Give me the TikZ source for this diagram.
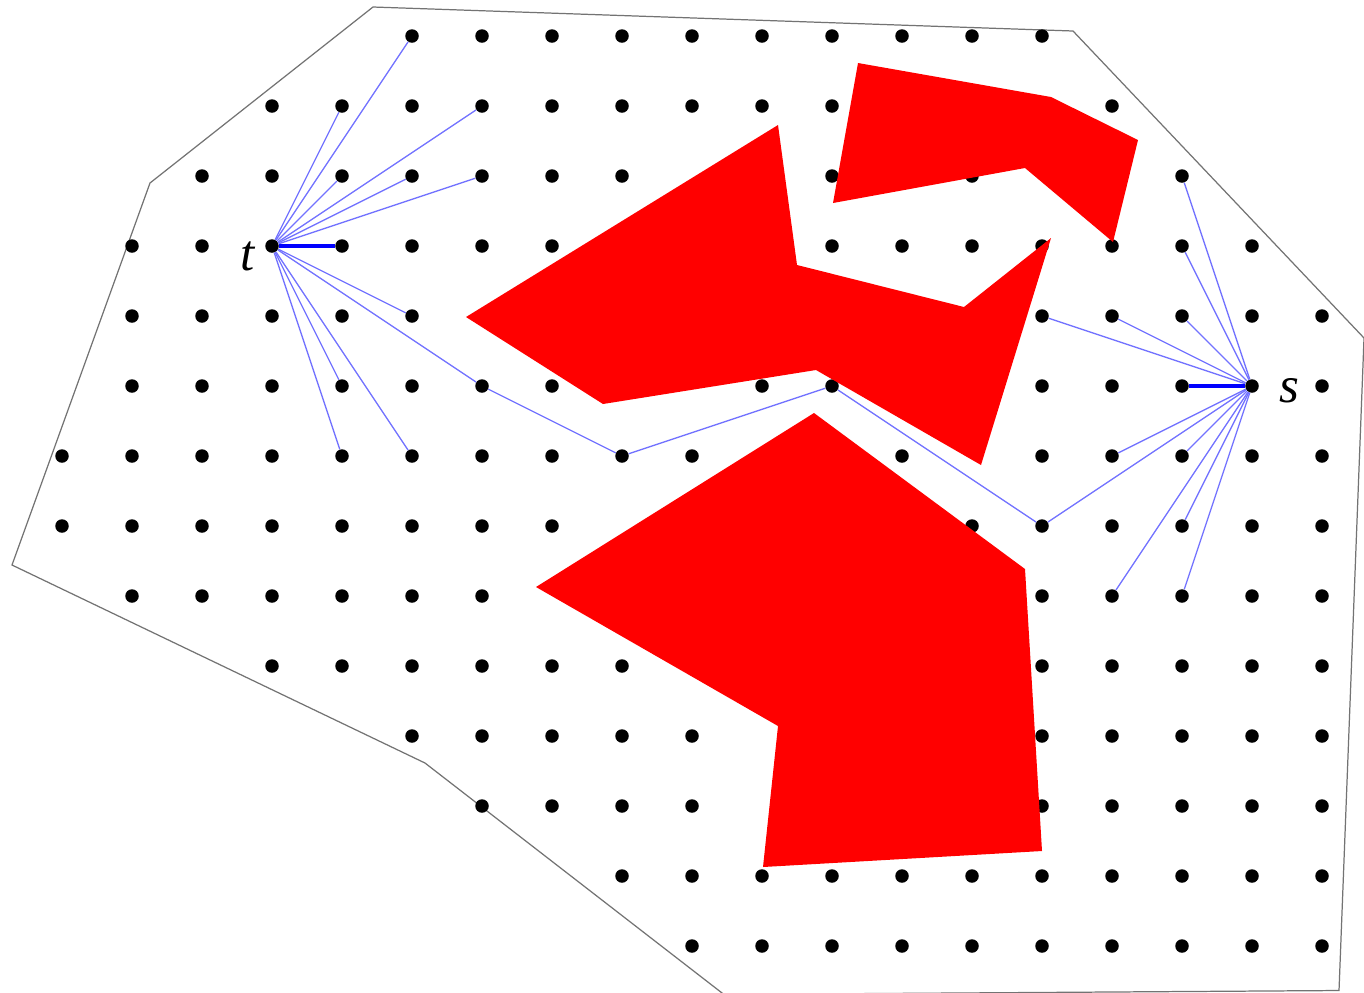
\documentclass[tikz,border=0pt]{standalone}
\usepackage{fontspec}
\setmainfont{Liberation Serif}
\usepackage{tikz}
\usetikzlibrary{calc}
\tikzset{pt/.style={circle,fill=black,inner sep=0pt,minimum size=0.27cm},
	obst/.style={fill=red,draw=none},
	fan/.style={blue!55,line width=0.75pt},
	seg/.style={blue,line width=2.2pt},
	hull/.style={black!55,line width=0.7pt},
	lbl/.style={font=\fontsize{29}{30}\selectfont\itshape,inner sep=0pt}}

\begin{document}
\begin{tikzpicture}[x=0.02cm,y=-0.02cm]
	%	\draw[help lines] (0,0) grid (1364,992);
	\useasboundingbox (0,0) rectangle (1364,992);

		\draw[hull] (373,7) -- (1073,31) -- (1364,338) -- (1339,990.5) -- (724,994.5) -- (425,763) -- (12,565) -- (150,183) -- cycle;

		% row/first/last of each run of dots
		\foreach \r/\a/\b in {0/5/14,1/3/11,1/15/15,2/2/8,2/11/11,2/13/13,2/16/16,
			3/1/7,3/11/17,4/1/5,4/14/18,5/1/7,5/10/11,5/14/18,
			6/0/9,6/12/12,6/14/18,7/0/7,7/13/18,8/1/6,8/14/18,
			9/3/8,9/14/18,10/5/9,10/14/18,11/6/9,11/14/18,12/8/18,13/9/18}
			\foreach \c in {\a,...,\b}
				\node[pt] (p\c-\r) at (62+70*\c,36+70*\r) {};

		\fill[obst] (466,317) -- (778,125) -- (797,265) -- (964,307) -- (1051,238) -- (981,465) -- (816,370) -- (603,404) -- cycle;
		\fill[obst] (858,63) -- (1051,97) -- (1138,140) -- (1113,242) -- (1025,168) -- (833,203) -- cycle;
		\fill[obst] (814,413) -- (1025,569) -- (1042,851) -- (763,867) -- (778,726) -- (536,587) -- cycle;

		\foreach \q in {p5-0,p4-1,p6-1,p4-2,p5-2,p6-2,p5-4,p4-5,p4-6,p5-6}
			\draw[fan] (p3-3) -- (\q);
		\foreach \q in {p16-2,p16-3,p14-4,p15-4,p16-4,p15-6,p16-6,p16-7,p15-8,p16-8}
			\draw[fan] (p17-5) -- (\q);
		\draw[fan] (p3-3) -- (p6-5) -- (p8-6) -- (p11-5) -- (p14-7) -- (p17-5);

		\draw[seg] (p3-3) -- (p4-3);
		\draw[seg] (p17-5) -- (p16-5);

	\node[lbl] (tlab) at (248,256) {t};
	\node[lbl] (slab) at (1289,391) {s};
\end{tikzpicture}
\end{document}
